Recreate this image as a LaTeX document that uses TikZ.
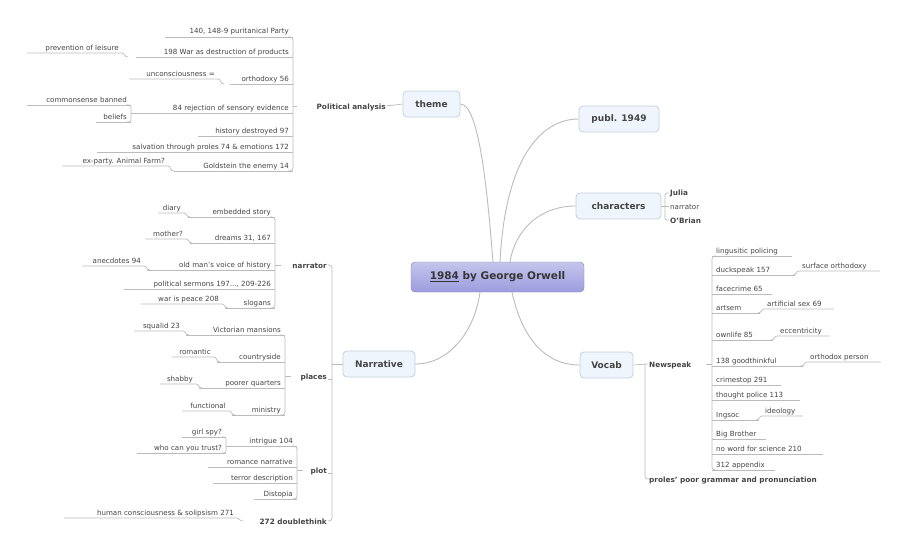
\documentclass[tikz,border=0pt]{standalone}
\usepackage{fontspec}
\setmainfont{DejaVu Sans}
\definecolor{tx}{HTML}{444444}
\definecolor{ln}{HTML}{BBBBBB}
\definecolor{bxf}{HTML}{EEF5FC}
\definecolor{bxd}{HTML}{C5D1DC}
\tikzset{
 lf/.style={font=\fontsize{7.1}{8}\selectfont, text=tx, inner sep=0pt},
 lb/.style={font=\fontsize{7.3}{8}\selectfont\bfseries, text=tx, inner sep=0pt},
 lnk/.style={draw=ln, line width=0.7pt},
 topic/.style={draw=bxd, fill=bxf, rounded corners=4, font=\fontsize{9}{10}\selectfont\bfseries, text=tx, line width=0.8pt}
}
\newcommand\LL[5]{\node[lf,anchor=base east] (#1) at ({#3-4},{#4-3}) {#5}; \draw[lnk] (#2,#4)--(#3,#4);}
\newcommand\LS[6]{\node[lf,anchor=base east] (#1) at ({#3-3},{#4-3}) {#6}; \draw[lnk] (#2,#4)--(#3,#4) .. controls ({#3+3},#4) and ({#3+2},#5) .. ({#3+6},#5);}
\newcommand\RL[5]{\node[lf,anchor=base west] (#1) at ({#2+4},{#4-3}) {#5}; \draw[lnk] (#2,#4)--(#3,#4);}
\newcommand\RS[6]{\node[lf,anchor=base west] (#1) at ({#2+3},{#4-3}) {#6}; \draw[lnk] ({#2-6},#5) .. controls ({#2-2},#5) and ({#2-3},#4) .. (#2,#4)--(#3,#4);}
\begin{document}
\begin{tikzpicture}[x=1pt,y=-1pt]
\useasboundingbox (0,0) rectangle (908,554);
% central
\node[draw=white!50!blue!40!gray, rounded corners=4, top color=blue!18!white!85!gray, bottom color=blue!35!white!75!gray, minimum width=173pt, minimum height=30pt, font=\fontsize{10.5}{12}\selectfont\bfseries, text=tx!80!black] (c) at (497.5,277) {\underline{1984} by George Orwell};
\node[topic, minimum width=57pt, minimum height=26pt] (theme) at (431.5,104) {theme};
\node[topic, minimum width=80pt, minimum height=26pt] (publ) at (619,119) {publ. 1949};
\node[topic, minimum width=85pt, minimum height=26pt] (chars) at (618.5,206) {characters};
\node[topic, minimum width=53pt, minimum height=26pt] (vocab) at (606.5,365) {Vocab};
\node[topic, minimum width=72pt, minimum height=26pt] (narr) at (379,364) {Narrative};
\draw[lnk,line width=0.9pt] (theme.east) .. controls (480,104) and (488,200) .. (493,262);
\draw[lnk,line width=0.9pt] (publ.west) .. controls (540,119) and (505,160) .. (500,262);
\draw[lnk,line width=0.9pt] (chars.west) .. controls (540,206) and (515,230) .. (510,262);
\draw[lnk,line width=0.9pt] (vocab.west) .. controls (540,365) and (520,330) .. (512,292);
\draw[lnk,line width=0.9pt] (narr.east) .. controls (450,364) and (475,330) .. (480,292);
% theme branch
\node[lb,anchor=base east] (pol) at (386,109) {Political analysis};
\draw[lnk] (theme.west) -- (pol.east |- 0,106);
\draw[lnk,rounded corners=3] (288,37) -| (293,171) -- (288,171);
\draw[lnk] (293,106)--(297,106);
\LL{a1}{165}{293}{37}{140, 148-9 puritanical Party}
\LL{a2}{136}{293}{57}{198 War as destruction of products}
\LS{a2s}{27}{122}{53}{57}{prevention of leisure}
\LL{a3}{230}{293}{84}{orthodoxy 56}
\LS{a3s}{129}{218}{79}{84}{unconsciousness =}
\LL{a4}{146}{293}{113}{84 rejection of sensory evidence}
\LL{a4a}{27}{131}{105}{commonsense banned}
\LL{a4b}{96}{131}{122}{beliefs}
\draw[lnk,rounded corners=2] (126,105) -| (131,122) -- (126,122);
\draw[lnk] (131,113)--(146,113);
\LL{a5}{198}{293}{136}{history destroyed 97}
\LL{a6}{97}{293}{152}{salvation through proles 74 \& emotions 172}
\LL{a7}{174}{293}{171}{Goldstein the enemy 14}
\LS{a7s}{62}{168}{166}{171}{ex-party. Animal Farm?}
% narrative branch
\draw[lnk,rounded corners=3] (328,265) -| (332,521) -- (328,521);
\draw[lnk] (332,364) -- (narr.west);
\node[lb,anchor=base east] (nar) at (327,268) {narrator};
\node[lb,anchor=base east] (pla) at (327,379) {places};
\node[lb,anchor=base east] (plo) at (327,473) {plot};
\node[lb,anchor=base east] (dbl) at (327,524) {272 doublethink};
\draw[lnk] (332,379)--(328,379) (332,473)--(328,473);
% narrator
\draw[lnk,rounded corners=3] (270,217) -| (275,308) -- (270,308);
\draw[lnk] (275,265)--(281,265);
\LL{n1}{188}{275}{217}{embedded story}
\LS{n1s}{158}{184}{213}{217}{diary}
\LL{n2}{190}{275}{243}{dreams 31, 167}
\LS{n2s}{145}{186}{239}{243}{mother?}
\LL{n3}{147}{275}{270}{old man's voice of history}
\LS{n3s}{82}{144}{266}{270}{anecdotes 94}
\LL{n4}{124}{275}{289}{political sermons 197..., 209-226}
\LL{n5}{225}{275}{308}{slogans}
\LS{n5s}{141}{222}{304}{308}{war is peace 208}
% places
\draw[lnk,rounded corners=3] (280,335) -| (285,415) -- (280,415);
\draw[lnk] (285,376)--(291,376);
\LL{p1}{186}{285}{335}{Victorian mansions}
\LS{p1s}{134}{183}{331}{335}{squalid 23}
\LL{p2}{217}{285}{362}{countryside}
\LS{p2s}{172}{214}{357}{362}{romantic}
\LL{p3}{199}{285}{388}{poorer quarters}
\LS{p3s}{160}{196}{384}{388}{shabby}
\LL{p4}{232}{285}{415}{ministry}
\LS{p4s}{182}{229}{411}{415}{functional}
% plot
\draw[lnk,rounded corners=3] (292,446) -| (297,499) -- (292,499);
\draw[lnk] (297,470)--(303,470);
\LL{q1}{232}{297}{446}{intrigue 104}
\LL{q1a}{182}{226}{437}{girl spy?}
\LL{q1b}{137}{226}{453}{who can you trust?}
\draw[lnk,rounded corners=2] (222,437) -| (226,453) -- (222,453);
\draw[lnk] (226,446)--(232,446);
\LL{q2}{208}{297}{467}{romance narrative}
\LL{q3}{213}{297}{483}{terror description}
\LL{q4}{254}{297}{499}{Distopia}
\LS{q5}{64}{237}{518}{521}{human consciousness \& solipsism 271}
% characters
\draw[lnk,rounded corners=2] (669,193) -| (665,220) -- (669,220);
\draw[lnk] (chars.east) -- (669,206);
\node[lb,anchor=base west] (j) at (670,195) {Julia};
\node[lf,anchor=base west] (nr) at (670,209) {narrator};
\node[lb,anchor=base west] (ob) at (670,223) {O'Brian};
% vocab
\draw[lnk] (vocab.east) -- (648,364);
\node[lb,anchor=base west] (news) at (649,367) {Newspeak};
\draw[lnk,rounded corners=3] (645,364) |- (650,479);
\node[lb,anchor=base west] (prol) at (649,482) {proles' poor grammar and pronunciation};
\draw[lnk] (706,364)--(712,364);
\draw[lnk,rounded corners=3] (716,256) -| (712,470) -- (716,470);
\RL{v1}{712}{792}{256}{lingusitic policing}
\RL{v2}{712}{795}{275}{duckspeak 157}
\RS{v2s}{799}{880}{271}{275}{surface orthodoxy}
\RL{v3}{712}{772}{294}{facecrime 65}
\RL{v4}{712}{760}{313}{artsem}
\RS{v4s}{764}{834}{309}{313}{artificial sex 69}
\RL{v5}{712}{773}{340}{ownlife 85}
\RS{v5s}{777}{830}{336}{340}{eccentricity}
\RL{v6}{712}{803}{366}{138 goodthinkful}
\RS{v6s}{807}{881}{362}{366}{orthodox person}
\RL{v7}{712}{781}{385}{crimestop 291}
\RL{v8}{712}{800}{400}{thought police 113}
\RL{v9}{712}{759}{420}{Ingsoc}
\RS{v9s}{762}{803}{416}{420}{ideology}
\RL{v10}{712}{766}{439}{Big Brother}
\RL{v11}{712}{823}{454}{no word for science 210}
\RL{v12}{712}{775}{470}{312 appendix}
\end{tikzpicture}
\end{document}
